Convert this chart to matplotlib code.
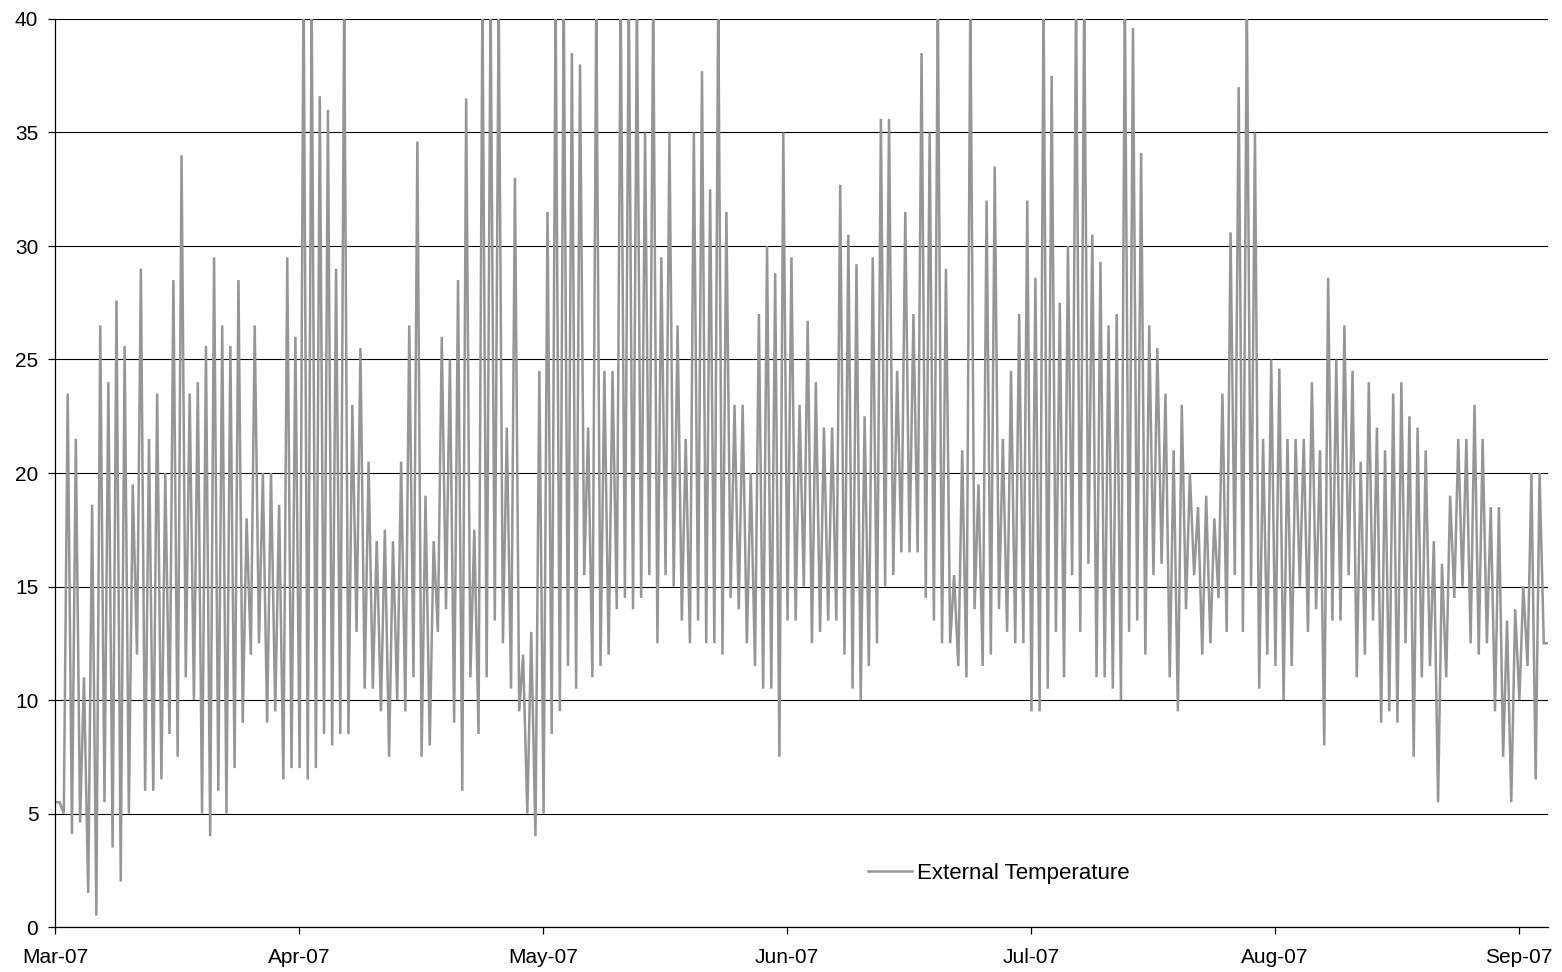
import matplotlib
matplotlib.use("Agg")
import matplotlib.pyplot as plt
import numpy as np

# Daily minimum and maximum external temperature (deg C), one entry per day
daily_min = [
    5.5, 5.0, 4.1, 4.6, 1.5, 0.5, 5.5, 3.5, 2.0, 5.0,
    12.0, 6.0, 6.0, 6.5, 8.5, 7.5, 11.0, 10.0, 5.0, 4.0,
    6.0, 5.0, 7.0, 9.0, 12.0, 12.5, 9.0, 9.5, 6.5, 7.0,
    7.0, 6.5, 7.0, 8.5, 8.0, 8.5, 8.5, 13.0, 10.5, 10.5,
    9.5, 7.5, 10.0, 9.5, 11.0, 7.5, 8.0, 13.0, 14.0, 9.0,
    6.0, 11.0, 8.5, 11.0, 13.5, 12.5, 10.5, 9.5, 5.0, 4.0,
    5.0, 8.5, 9.5, 11.5, 10.5, 15.5, 11.0, 11.5, 12.0, 14.0,
    14.5, 14.0, 14.5, 15.5, 12.5, 15.5, 15.0, 13.5, 12.5, 13.5,
    12.5, 12.5, 12.0, 14.5, 14.0, 12.5, 11.5, 10.5, 10.5, 7.5,
    13.5, 13.5, 15.0, 12.5, 13.0, 13.5, 13.5, 12.0, 10.5, 10.0,
    11.5, 12.5, 15.0, 15.5, 16.5, 16.5, 16.5, 14.5, 13.5, 12.5,
    12.5, 11.5, 11.0, 14.0, 11.5, 12.0, 14.0, 13.0, 12.5, 12.5,
    9.5, 9.5, 10.5, 13.0, 11.0, 15.5, 13.0, 16.0, 11.0, 11.0,
    10.5, 10.0, 13.0, 13.5, 12.0, 15.5, 16.0, 11.0, 9.5, 14.0,
    15.5, 12.0, 12.5, 14.5, 13.0, 15.5, 13.0, 15.0, 10.5, 12.0,
    11.5, 10.0, 11.5, 15.0, 13.0, 14.0, 8.0, 13.5, 13.5, 15.5,
    11.0, 12.0, 13.5, 9.0, 9.5, 9.0, 12.5, 7.5, 11.0, 11.5,
    5.5, 11.0, 14.5, 15.0, 12.5, 12.0, 12.5, 9.5, 7.5, 5.5,
    10.0, 11.5, 6.5, 12.5,
]

daily_max = [
    5.5, 23.5, 21.5, 11.0, 18.6, 26.5, 24.0, 27.6, 25.6, 19.5,
    29.0, 21.5, 23.5, 20.0, 28.5, 34.0, 23.5, 24.0, 25.6, 29.5,
    26.5, 25.6, 28.5, 18.0, 26.5, 20.0, 20.0, 18.6, 29.5, 26.0,
    42.0, 41.0, 36.6, 36.0, 29.0, 41.0, 23.0, 25.5, 20.5, 17.0,
    17.5, 17.0, 20.5, 26.5, 34.6, 19.0, 17.0, 26.0, 25.0, 28.5,
    36.5, 17.5, 41.0, 41.0, 41.0, 22.0, 33.0, 12.0, 13.0, 24.5,
    31.5, 41.0, 41.0, 38.5, 38.0, 22.0, 41.0, 24.5, 24.5, 41.0,
    41.0, 41.0, 35.0, 41.0, 29.5, 35.0, 26.5, 21.5, 35.0, 37.7,
    32.5, 41.0, 31.5, 23.0, 23.0, 20.0, 27.0, 30.0, 28.8, 35.0,
    29.5, 23.0, 26.7, 24.0, 22.0, 22.0, 32.7, 30.5, 29.2, 22.5,
    29.5, 35.6, 35.6, 24.5, 31.5, 27.0, 38.5, 35.0, 41.0, 29.0,
    15.5, 21.0, 41.0, 19.5, 32.0, 33.5, 21.5, 24.5, 27.0, 32.0,
    28.6, 41.0, 37.5, 27.5, 30.0, 41.0, 41.0, 30.5, 29.3, 26.5,
    27.0, 41.0, 39.6, 34.1, 26.5, 25.5, 23.5, 21.0, 23.0, 20.0,
    18.5, 19.0, 18.0, 23.5, 30.6, 37.0, 41.0, 35.0, 21.5, 25.0,
    24.6, 21.5, 21.5, 21.5, 24.0, 21.0, 28.6, 25.0, 26.5, 24.5,
    20.5, 24.0, 22.0, 21.0, 23.5, 24.0, 22.5, 22.0, 21.0, 17.0,
    16.0, 19.0, 21.5, 21.5, 23.0, 21.5, 18.5, 18.5, 13.5, 14.0,
    15.0, 20.0, 20.0, 12.5,
]

# Hour of day at which the daily minimum and maximum occur
hour_min = 2.0
hour_max = 13.5

# Category-axis labels, one every 30 days
tick_labels = ["Mar-07", "Apr-07", "May-07", "Jun-07", "Jul-07", "Aug-07", "Sep-07"]
tick_step_days = 30

series_name = "External Temperature"

# Build the time series of turning points (days since start)
n_days = len(daily_min)
t = []
v = []
for d in range(n_days):
    t.append(d + hour_min / 24.0)
    v.append(daily_min[d])
    t.append(d + hour_max / 24.0)
    v.append(daily_max[d])
t = np.array(t)
v = np.array(v)

plt.rcParams["font.family"] = ["Liberation Sans", "DejaVu Sans"]

fig = plt.figure(figsize=(15.62, 9.72), dpi=100)
ax = fig.add_axes([55 / 1562, 1 - 927 / 972, (1548 - 55) / 1562, (927 - 19) / 972])

ax.plot(t, v, color="#969696", lw=1.8, label=series_name, solid_joinstyle="miter")

ax.set_xlim(0, n_days - 0.4)
ax.set_ylim(0, 40)
ax.set_yticks(np.arange(0, 41, 5))
ax.set_xticks([i * tick_step_days for i in range(len(tick_labels))])
ax.set_xticklabels(tick_labels)

ax.grid(axis="y", color="black", lw=0.8)
ax.set_axisbelow(True)
for side in ("top", "right"):
    ax.spines[side].set_visible(False)
for side in ("left", "bottom"):
    ax.spines[side].set_color("black")
    ax.spines[side].set_linewidth(0.9)

ax.tick_params(axis="both", labelsize=15, colors="black", direction="out",
               length=5, width=0.9)
ax.tick_params(axis="y", pad=7)
ax.tick_params(axis="x", pad=10)

leg = ax.legend(loc="center left", bbox_to_anchor=(0.5445, 0.059), frameon=False,
                fontsize=16, handlelength=2.0, handletextpad=0.22,
                borderpad=0, borderaxespad=0)

fig.savefig("out.png", dpi=100)
